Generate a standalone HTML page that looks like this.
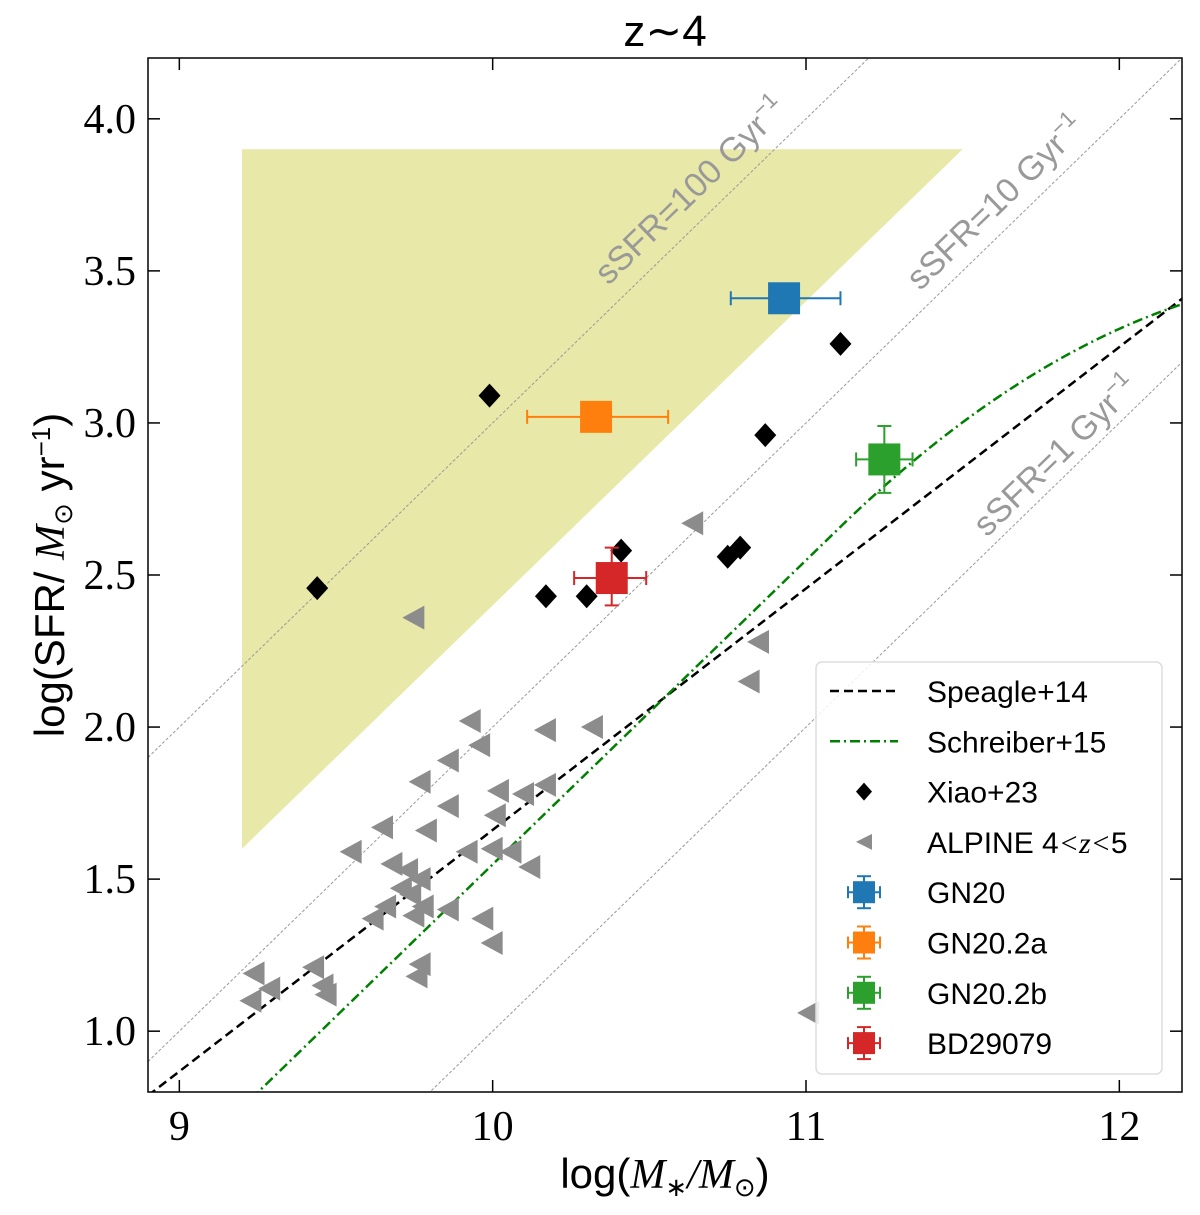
<!DOCTYPE html>
<html><head><meta charset="utf-8"><style>
html,body{margin:0;background:#fff;overflow:hidden;width:1200px;height:1215px}
svg{display:block}
</style></head><body>
<svg id="chart" width="1200" height="1215" xmlns="http://www.w3.org/2000/svg">
<rect width="1200" height="1215" fill="#fff"/>
<g id="plot"></g>
</svg>
<script>
const xTicks=[9,10,11,12];
const yTicks=[1.0,1.5,2.0,2.5,3.0,3.5,4.0];
const yTickLabels=["1.0","1.5","2.0","2.5","3.0","3.5","4.0"];
const xiaoMass=[9.44,9.99,10.17,10.30,10.41,10.75,10.79,10.87,11.11];
const xiaoSFR=[2.457,3.09,2.43,2.43,2.58,2.56,2.59,2.96,3.26];
const alpineMass=[9.75,10.64,10.85,10.82,9.93,9.96,10.17,10.32,9.86,9.77,10.02,10.17,10.10,9.86,9.65,9.79,10.01,9.55,9.92,10.00,10.06,10.12,9.68,9.73,9.77,9.71,9.74,9.66,9.78,9.62,9.75,9.86,9.97,10.00,9.77,9.76,9.43,9.24,9.29,9.46,9.47,9.23,11.01];
const alpineSFR=[2.36,2.67,2.28,2.15,2.02,1.94,1.99,2.00,1.89,1.82,1.79,1.81,1.78,1.74,1.67,1.66,1.71,1.59,1.59,1.60,1.59,1.54,1.55,1.53,1.50,1.47,1.45,1.41,1.41,1.37,1.38,1.40,1.37,1.29,1.22,1.18,1.21,1.19,1.14,1.15,1.12,1.10,1.06];
const srcNames=["GN20","GN20.2a","GN20.2b","BD29079"];
const srcMass=[10.93,10.33,11.25,10.38];
const srcSFR=[3.41,3.02,2.88,2.49];
const srcMassLo=[10.76,10.11,11.16,10.26];
const srcMassHi=[11.11,10.56,11.34,10.49];
const srcSFRLo=[3.40,3.01,2.77,2.40];
const srcSFRHi=[3.42,3.03,2.99,2.59];
const srcColors=["#1f77b4","#ff7f0e","#2ca02c","#d62728"];
const shadeMass=[9.2,11.5,9.2];
const shadeSFR=[3.9,3.9,1.6];
const ssfrLogOffsets=[-7,-8,-9];
const ssfrLabels=["sSFR=100 Gyr","sSFR=10 Gyr","sSFR=1 Gyr"];
const speagleM0=8.94, speagleS0=0.82, speagleSlope=0.794;

const L=148,R=1182,T=58,B=1092,X0=8.9,X1=12.2,Y0=0.8,Y1=4.2;
const xs=v=>L+(v-X0)/(X1-X0)*(R-L);
const ys=v=>B-(v-Y0)/(Y1-Y0)*(B-T);
const NS="http://www.w3.org/2000/svg";
const g=document.getElementById('plot');
function mk(tag,attrs,parent){const e=document.createElementNS(NS,tag);for(const k in attrs)e.setAttribute(k,attrs[k]);(parent||g).appendChild(e);return e;}

const defs=mk('defs',{});
const cp=mk('clipPath',{id:'clip'},defs);mk('rect',{x:L,y:T,width:R-L,height:B-T},cp);
const area=mk('g',{'clip-path':'url(#clip)'});



let sp=shadeMass.map((m,i)=>xs(m)+','+ys(shadeSFR[i])).join(' ');
let sh=mk('polygon',{points:sp,fill:'#e8e8a8'},area);



const labelPos=[[690,190],[995,202],[1055,455]];
const ang=-Math.atan((ys(0)-ys(1))/(xs(1)-xs(0)))*180/Math.PI;
ssfrLogOffsets.forEach((o,i)=>{
 let l=mk('line',{x1:xs(X0),y1:ys(X0+o),x2:xs(X1),y2:ys(X1+o),stroke:'#999','stroke-width':1,'stroke-dasharray':'3,2'},area);
 
 
 const [px,py]=labelPos[i];
 let t=mk('text',{x:px,y:py+12,'font-family':'Liberation Sans, sans-serif','font-size':34,fill:'#999','text-anchor':'middle',transform:`rotate(${ang} ${px} ${py})`},area);
 t.textContent=ssfrLabels[i];
 let s=mk('tspan',{dy:-14,'font-size':22},t);s.textContent='−1';
 
 
});

let sl=mk('line',{x1:xs(X0),y1:ys(speagleS0+speagleSlope*(X0-speagleM0)),x2:xs(X1),y2:ys(speagleS0+speagleSlope*(X1-speagleM0)),stroke:'#000','stroke-width':2.5,'stroke-dasharray':'9,5'},area);



const r=Math.log10(5);let pts=[];
for(let M=9.0;M<=12.25;M+=0.02){const m=M-9;const q=Math.max(0,m-0.36-2.5*r);pts.push(xs(M)+','+ys(m-0.5+1.5*r-0.3*q*q));}
let scl=mk('polyline',{points:pts.join(' '),fill:'none',stroke:'#008000','stroke-width':2.5,'stroke-dasharray':'10,4,2,4'},area);



alpineMass.forEach((m,i)=>{const x=xs(m),y=ys(alpineSFR[i]);
 let p=mk('polygon',{points:`${x-12},${y} ${x+10},${y-12} ${x+10},${y+12}`,fill:'#8c8c8c'},area);
 
 });

xiaoMass.forEach((m,i)=>{const x=xs(m),y=ys(xiaoSFR[i]);
 let p=mk('polygon',{points:`${x},${y-12} ${x+11},${y} ${x},${y+12} ${x-11},${y}`,fill:'#000'},area);
 
 });

srcMass.forEach((m,i)=>{const x=xs(m),y=ys(srcSFR[i]),c=srcColors[i];
 const grp=mk('g',{},area);
 
 
 const x1=xs(srcMassLo[i]),x2=xs(srcMassHi[i]),y1=ys(srcSFRLo[i]),y2=ys(srcSFRHi[i]);
 mk('line',{x1:x1,y1:y,x2:x2,y2:y,stroke:c,'stroke-width':2},grp);
 mk('line',{x1:x1,y1:y-7,x2:x1,y2:y+7,stroke:c,'stroke-width':2},grp);
 mk('line',{x1:x2,y1:y-7,x2:x2,y2:y+7,stroke:c,'stroke-width':2},grp);
 mk('line',{x1:x,y1:y1,x2:x,y2:y2,stroke:c,'stroke-width':2},grp);
 mk('line',{x1:x-7,y1:y1,x2:x+7,y2:y1,stroke:c,'stroke-width':2},grp);
 mk('line',{x1:x-7,y1:y2,x2:x+7,y2:y2,stroke:c,'stroke-width':2},grp);
 mk('rect',{x:x-16,y:y-16,width:32,height:32,fill:c},grp);
});

let fr=mk('rect',{x:L,y:T,width:R-L,height:B-T,fill:'none',stroke:'#000','stroke-width':1.5});


xTicks.forEach(v=>{const x=xs(v);
 mk('line',{x1:x,y1:B,x2:x,y2:B-12,stroke:'#000','stroke-width':1.5});
 mk('line',{x1:x,y1:T,x2:x,y2:T+12,stroke:'#000','stroke-width':1.5});
 let t=mk('text',{x:x,y:B+48,'font-family':'Liberation Serif, serif','font-size':42,'text-anchor':'middle'});t.textContent=v;
 
 });
yTicks.forEach((v,i)=>{const y=ys(v);
 mk('line',{x1:L,y1:y,x2:L+12,y2:y,stroke:'#000','stroke-width':1.5});
 mk('line',{x1:R,y1:y,x2:R-12,y2:y,stroke:'#000','stroke-width':1.5});
 let t=mk('text',{x:L-12,y:y+14,'font-family':'Liberation Serif, serif','font-size':42,'text-anchor':'end'});t.textContent=yTickLabels[i];
 
 });

let tt=mk('text',{x:665,y:46,'font-family':'Liberation Sans, sans-serif','font-size':44,'text-anchor':'middle'});tt.textContent='z∼4';


let xl=mk('text',{x:665,y:1188,'font-family':'Liberation Sans, sans-serif','font-size':42,'text-anchor':'middle'});
xl.innerHTML='log(<tspan font-family="Liberation Serif, serif" font-style="italic">M</tspan><tspan font-size="26" dy="8">∗</tspan><tspan dy="-8" font-family="Liberation Serif, serif" font-style="italic">/M</tspan><tspan font-size="26" dy="8">⊙</tspan><tspan dy="-8">)</tspan>';


let yl=mk('text',{x:0,y:0,'font-family':'Liberation Sans, sans-serif','font-size':42,'text-anchor':'middle',transform:'translate(64,575) rotate(-90)'});
yl.innerHTML='log(SFR/ <tspan font-family="Liberation Serif, serif" font-style="italic">M</tspan><tspan font-size="26" dy="8">⊙</tspan><tspan dy="-8"> yr</tspan><tspan font-size="26" dy="-14">−1</tspan><tspan dy="14">)</tspan>';



const lg=mk('g',{});


mk('rect',{x:816,y:662,width:346,height:412,rx:6,fill:'#fff','fill-opacity':0.85,stroke:'#ddd','stroke-width':1.5},lg);
const legLabels=['Speagle+14','Schreiber+15','Xiao+23','ALPINE 4<z<5'].concat(srcNames);
legLabels.forEach((lab,i)=>{const y=691+i*50.3;
 const e=mk('g',{},lg);
 
 
 if(i==0)mk('line',{x1:830,y1:y,x2:898,y2:y,stroke:'#000','stroke-width':2.5,'stroke-dasharray':'9,5'},e);
 else if(i==1)mk('line',{x1:830,y1:y,x2:898,y2:y,stroke:'#008000','stroke-width':2.5,'stroke-dasharray':'10,4,2,4'},e);
 else if(i==2)mk('polygon',{points:`864,${y-9} 872,${y} 864,${y+9} 856,${y}`,fill:'#000'},e);
 else if(i==3)mk('polygon',{points:`856,${y} 872,${y-8} 872,${y+8}`,fill:'#8c8c8c'},e);
 else{const c=srcColors[i-4];
  mk('line',{x1:848,y1:y,x2:880,y2:y,stroke:c,'stroke-width':2},e);
  mk('line',{x1:864,y1:y-16,x2:864,y2:y+16,stroke:c,'stroke-width':2},e);
  mk('line',{x1:857,y1:y-16,x2:871,y2:y-16,stroke:c,'stroke-width':2},e);
  mk('line',{x1:857,y1:y+16,x2:871,y2:y+16,stroke:c,'stroke-width':2},e);
  mk('line',{x1:848,y1:y-6,x2:848,y2:y+6,stroke:c,'stroke-width':2},e);
  mk('line',{x1:880,y1:y-6,x2:880,y2:y+6,stroke:c,'stroke-width':2},e);
  mk('rect',{x:853,y:y-11,width:22,height:22,fill:c},e);}
 const t=mk('text',{x:927,y:y+11,'font-family':'Liberation Sans, sans-serif','font-size':30},e);
 if(i==3)t.innerHTML='ALPINE 4<tspan font-family="Liberation Serif, serif" font-style="italic">&lt;z&lt;</tspan>5';
 else t.textContent=lab;
});
</script>
</body></html>
